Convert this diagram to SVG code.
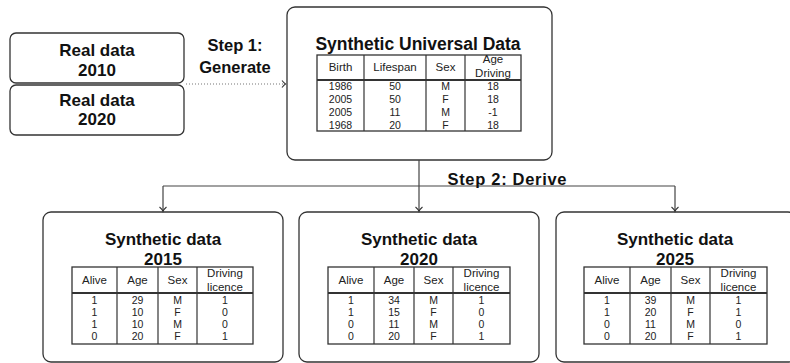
<svg xmlns="http://www.w3.org/2000/svg" width="790" height="363" viewBox="0 0 790 363">
<defs>
<style>
.box{fill:#fff;stroke:#333;stroke-width:1.3}
.ttl{font-family:"Liberation Sans",Arial,sans-serif;font-weight:bold;fill:#111;text-anchor:middle}
.lbl{font-family:"Liberation Sans",Arial,sans-serif;font-weight:bold;fill:#111;font-size:16.5px;text-anchor:middle}
.td{font-family:"Liberation Sans",Arial,sans-serif;font-size:10.5px;fill:#222;text-anchor:middle}
.th{font-family:"Liberation Sans",Arial,sans-serif;font-size:11.5px;fill:#222;text-anchor:middle}
.tb{fill:none;stroke:#333;stroke-width:1.3}
.tl{stroke:#333;stroke-width:1.2}
.hs{stroke:#333;stroke-width:2.2}
.con{fill:none;stroke:#444;stroke-width:1.2}
.dot{fill:none;stroke:#777;stroke-width:1.1;stroke-dasharray:1 2}
.ah{fill:none;stroke:#333;stroke-width:1.1}
</style>
</defs>

<g id="real2010">
<rect class="box" x="10" y="33" width="174" height="50" rx="6"/>
<text class="ttl" font-size="17" x="97" y="56">Real data</text>
<text class="ttl" font-size="17" x="97" y="76">2010</text>
</g>
<g id="real2020">
<rect class="box" x="10" y="85" width="174" height="50" rx="6"/>
<text class="ttl" font-size="17" x="97" y="106">Real data</text>
<text class="ttl" font-size="17" x="97" y="125">2020</text>
</g>

<g id="step1">
<text class="lbl" x="235" y="51">Step 1:</text>
<text class="lbl" x="235" y="73">Generate</text>
</g>

<g id="universal">
<rect class="box" x="287" y="7" width="265" height="153" rx="8"/>
<text class="ttl" font-size="17.5" x="418" y="50">Synthetic Universal Data</text>
<rect class="tb" x="317" y="55" width="204" height="76"/>
<line class="tl" x1="364" y1="55" x2="364" y2="131"/>
<line class="tl" x1="426" y1="55" x2="426" y2="131"/>
<line class="tl" x1="465" y1="55" x2="465" y2="131"/>
<line class="hs" x1="317" y1="80" x2="521" y2="80"/>
<text class="th" x="340.5" y="71">Birth</text>
<text class="th" x="395" y="71">Lifespan</text>
<text class="th" x="445.5" y="71">Sex</text>
<text class="th" x="493" y="63">Age</text>
<text class="th" x="493" y="77">Driving</text>
<text class="td" x="340.5" y="89.5">1986</text><text class="td" x="395" y="89.5">50</text><text class="td" x="445.5" y="89.5">M</text><text class="td" x="493" y="89.5">18</text>
<text class="td" x="340.5" y="102.5">2005</text><text class="td" x="395" y="102.5">50</text><text class="td" x="445.5" y="102.5">F</text><text class="td" x="493" y="102.5">18</text>
<text class="td" x="340.5" y="115.5">2005</text><text class="td" x="395" y="115.5">11</text><text class="td" x="445.5" y="115.5">M</text><text class="td" x="493" y="115.5">-1</text>
<text class="td" x="340.5" y="128.5">1968</text><text class="td" x="395" y="128.5">20</text><text class="td" x="445.5" y="128.5">F</text><text class="td" x="493" y="128.5">18</text>
</g>

<g id="syn2015">
<rect class="box" x="43" y="212" width="240" height="150" rx="8"/>
<text class="ttl" font-size="17" x="163" y="245">Synthetic data</text>
<text class="ttl" font-size="17" x="163" y="265">2015</text>
<rect class="tb" x="72" y="267" width="181" height="77"/>
<line class="tl" x1="117" y1="267" x2="117" y2="344"/>
<line class="tl" x1="158" y1="267" x2="158" y2="344"/>
<line class="tl" x1="197" y1="267" x2="197" y2="344"/>
<line class="hs" x1="72" y1="293" x2="253" y2="293"/>
<text class="th" x="94.5" y="284">Alive</text>
<text class="th" x="137.5" y="284">Age</text>
<text class="th" x="177.5" y="284">Sex</text>
<text class="th" x="225" y="277">Driving</text>
<text class="th" x="225" y="291">licence</text>
<text class="td" x="94.5" y="303.5">1</text><text class="td" x="137.5" y="303.5">29</text><text class="td" x="177.5" y="303.5">M</text><text class="td" x="225" y="303.5">1</text>
<text class="td" x="94.5" y="315.5">1</text><text class="td" x="137.5" y="315.5">10</text><text class="td" x="177.5" y="315.5">F</text><text class="td" x="225" y="315.5">0</text>
<text class="td" x="94.5" y="327.5">1</text><text class="td" x="137.5" y="327.5">10</text><text class="td" x="177.5" y="327.5">M</text><text class="td" x="225" y="327.5">0</text>
<text class="td" x="94.5" y="339.5">0</text><text class="td" x="137.5" y="339.5">20</text><text class="td" x="177.5" y="339.5">F</text><text class="td" x="225" y="339.5">1</text>
</g>

<g id="syn2020">
<rect class="box" x="299" y="212" width="240" height="150" rx="8"/>
<text class="ttl" font-size="17" x="419" y="245">Synthetic data</text>
<text class="ttl" font-size="17" x="419" y="265">2020</text>
<rect class="tb" x="328" y="267" width="182" height="77"/>
<line class="tl" x1="374" y1="267" x2="374" y2="344"/>
<line class="tl" x1="414" y1="267" x2="414" y2="344"/>
<line class="tl" x1="453" y1="267" x2="453" y2="344"/>
<line class="hs" x1="328" y1="293" x2="510" y2="293"/>
<text class="th" x="351" y="284">Alive</text>
<text class="th" x="394" y="284">Age</text>
<text class="th" x="433.5" y="284">Sex</text>
<text class="th" x="481.5" y="277">Driving</text>
<text class="th" x="481.5" y="291">licence</text>
<text class="td" x="351" y="303.5">1</text><text class="td" x="394" y="303.5">34</text><text class="td" x="433.5" y="303.5">M</text><text class="td" x="481.5" y="303.5">1</text>
<text class="td" x="351" y="315.5">1</text><text class="td" x="394" y="315.5">15</text><text class="td" x="433.5" y="315.5">F</text><text class="td" x="481.5" y="315.5">0</text>
<text class="td" x="351" y="327.5">0</text><text class="td" x="394" y="327.5">11</text><text class="td" x="433.5" y="327.5">M</text><text class="td" x="481.5" y="327.5">0</text>
<text class="td" x="351" y="339.5">0</text><text class="td" x="394" y="339.5">20</text><text class="td" x="433.5" y="339.5">F</text><text class="td" x="481.5" y="339.5">1</text>
</g>

<g id="syn2025">
<rect class="box" x="556" y="212" width="240" height="150" rx="8"/>
<text class="ttl" font-size="17" x="675" y="245">Synthetic data</text>
<text class="ttl" font-size="17" x="675" y="265">2025</text>
<rect class="tb" x="584" y="267" width="183" height="77"/>
<line class="tl" x1="630" y1="267" x2="630" y2="344"/>
<line class="tl" x1="671" y1="267" x2="671" y2="344"/>
<line class="tl" x1="710" y1="267" x2="710" y2="344"/>
<line class="hs" x1="584" y1="293" x2="767" y2="293"/>
<text class="th" x="607" y="284">Alive</text>
<text class="th" x="650.5" y="284">Age</text>
<text class="th" x="690.5" y="284">Sex</text>
<text class="th" x="738.5" y="277">Driving</text>
<text class="th" x="738.5" y="291">licence</text>
<text class="td" x="607" y="303.5">1</text><text class="td" x="650.5" y="303.5">39</text><text class="td" x="690.5" y="303.5">M</text><text class="td" x="738.5" y="303.5">1</text>
<text class="td" x="607" y="315.5">1</text><text class="td" x="650.5" y="315.5">20</text><text class="td" x="690.5" y="315.5">F</text><text class="td" x="738.5" y="315.5">1</text>
<text class="td" x="607" y="327.5">0</text><text class="td" x="650.5" y="327.5">11</text><text class="td" x="690.5" y="327.5">M</text><text class="td" x="738.5" y="327.5">0</text>
<text class="td" x="607" y="339.5">0</text><text class="td" x="650.5" y="339.5">20</text><text class="td" x="690.5" y="339.5">F</text><text class="td" x="738.5" y="339.5">1</text>
</g>

<g id="connectors">
<line class="dot" x1="186" y1="84" x2="284" y2="84"/>
<path class="ah" d="M282 80.5 Q284 83 285.5 84 Q284 85 282 87.5"/>
<path class="con" d="M419 160 V186 M163 186 H675 M163 186 V211 M419 186 V211 M675 186 V211"/>
<path class="ah" d="M159.5 207 Q162 209 163 211.5 Q164 209 166.5 207"/>
<path class="ah" d="M415.5 207 Q418 209 419 211.5 Q420 209 422.5 207"/>
<path class="ah" d="M671.5 207 Q674 209 675 211.5 Q676 209 678.5 207"/>
<text class="lbl" x="507" y="185" textLength="119" lengthAdjust="spacing">Step 2: Derive</text>
</g>
</svg>
